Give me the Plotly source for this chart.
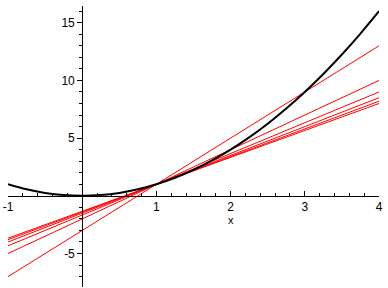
import plotly.graph_objects as go

curve_x = [-1.0, -0.75, -0.5, -0.25, 0.0, 0.25, 0.5, 0.75, 1.0, 1.25, 1.5, 1.75,
           2.0, 2.25, 2.5, 2.75, 3.0, 3.25, 3.5, 3.75, 4.0]
curve_y = [1.0, 0.5625, 0.25, 0.0625, 0.0, 0.0625, 0.25, 0.5625, 1.0, 1.5625, 2.25, 3.0625,
           4.0, 5.0625, 6.25, 7.5625, 9.0, 10.5625, 12.25, 14.0625, 16.0]

# Red secant lines: values at the left (x=-1) and right (x=4) ends
line_x = [-1, 4]
lines_left = [-7.0, -5.0, -4.33, -4.0, -3.8, -3.67]
lines_right = [13.0, 10.0, 9.0, 8.5, 8.2, 8.0]

x_tickvals = [-1, 1, 2, 3, 4]
x_ticktext = ["-1", "1", "2", "3", "4"]
y_tickvals = [-5, 5, 10, 15]
y_ticktext = ["-5", "5", "10", "15"]

xmin, xmax = -1.0, 4.0
ymin, ymax = -7.9, 16.45

fig = go.Figure()
for yl, yr in zip(lines_left, lines_right):
    fig.add_trace(go.Scatter(x=line_x, y=[yl, yr], mode="lines",
                             line=dict(color="#ff0000", width=1), showlegend=False,
                             hoverinfo="skip"))
fig.add_trace(go.Scatter(x=curve_x, y=curve_y, mode="lines",
                         line=dict(color="black", width=2, shape="spline"),
                         showlegend=False, hoverinfo="skip"))

font = dict(family="Liberation Sans, Arial, sans-serif", size=12, color="black")

fig.update_layout(
    width=388, height=288,
    margin=dict(l=8, r=9, t=6, b=1),
    paper_bgcolor="white", plot_bgcolor="white",
    font=font,
    xaxis=dict(range=[xmin, xmax], anchor="free",
               position=(0 - ymin) / (ymax - ymin),
               showgrid=False, zeroline=False, showline=True, linecolor="black",
               linewidth=1, ticks="inside", ticklen=5, tickcolor="black",
               tickvals=x_tickvals, ticktext=x_ticktext, tickfont=font,
               minor=dict(dtick=0.2, tick0=0, ticks="inside", ticklen=3,
                          tickcolor="black", showgrid=False)),
    yaxis=dict(range=[ymin, ymax], anchor="free",
               position=(0 - xmin) / (xmax - xmin),
               showgrid=False, zeroline=False, showline=True, linecolor="black",
               linewidth=1, ticks="outside", ticklen=5, tickcolor="black",
               tickvals=y_tickvals, ticktext=y_ticktext, tickfont=font,
               minor=dict(dtick=1, tick0=0, ticks="outside", ticklen=3,
                          tickcolor="black", showgrid=False)),
    annotations=[dict(x=2, y=0, xref="x", yref="y", text="x", showarrow=False,
                      yshift=-24, font=dict(family="Liberation Sans, Arial, sans-serif",
                                            size=11, color="black"))],
)

fig.write_html("out.html")
